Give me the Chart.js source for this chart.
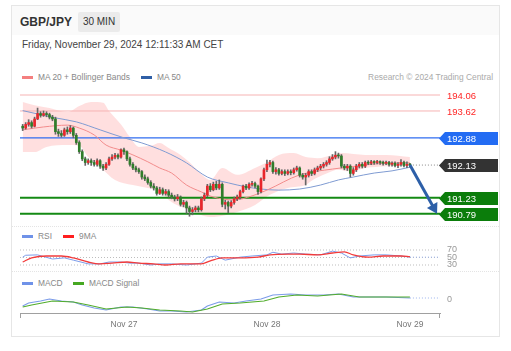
<!DOCTYPE html>
<html>
<head>
<meta charset="utf-8">
<script src="https://cdn.jsdelivr.net/npm/chart.js@4.4.1/dist/chart.umd.min.js"></script>
<style>
  body { margin:0; width:511px; height:351px; background:#fff; position:relative; overflow:hidden;
         font-family:"Liberation Sans", Arial, sans-serif; color:#333; }
  .abs { position:absolute; white-space:nowrap; }
  #card { left:11px; top:5px; width:489px; height:332px; border:1px solid #e6e6e6; box-sizing:border-box; }
  #head { left:12px; top:6px; width:487px; height:29px; background:#fafafa; }
  #pair { left:20px; top:15px; font-size:12px; font-weight:bold; color:#333; }
  #tf { left:78px; top:12px; width:42px; height:20px; background:#ebebeb; font-size:10px; line-height:20px; text-align:center; border-radius:2px; }
  #date { left:22px; top:39px; font-size:10px; color:#444; }
  .leg { font-size:8.4px; line-height:10px; color:#888; }
  .sw { height:3px; width:11px; }
  .sep { left:12px; width:487px; height:0; border-top:1px dotted #e4e4e4; }
  canvas { position:absolute; left:0; }
</style>
</head>
<body>
<div id="card" class="abs"></div>
<div id="head" class="abs"></div>
<div id="pair" class="abs">GBP/JPY</div>
<div id="tf" class="abs">30 MIN</div>
<div id="date" class="abs">Friday, November 29, 2024 12:11:33 AM CET</div>

<div class="abs sw" style="left:22px;top:76px;background:#f47f7f"></div>
<div class="abs leg" style="left:38px;top:72px">MA 20 + Bollinger Bands</div>
<div class="abs sw" style="left:141px;top:76px;background:#2f5fa6"></div>
<div class="abs leg" style="left:157px;top:72px">MA 50</div>
<div class="abs leg" style="right:18px;top:72px;color:#aaa">Research © 2024 Trading Central</div>

<div class="abs sep" style="top:226px"></div>
<div class="abs sw" style="left:22px;top:235px;background:#6f92e8"></div>
<div class="abs leg" style="left:38px;top:231px">RSI</div>
<div class="abs sw" style="left:63px;top:235px;background:#ff1f1f"></div>
<div class="abs leg" style="left:79px;top:231px">9MA</div>

<div class="abs sep" style="top:271px"></div>
<div class="abs sw" style="left:22px;top:282px;background:#6f92e8"></div>
<div class="abs leg" style="left:38px;top:278px">MACD</div>
<div class="abs sw" style="left:73px;top:282px;background:#46a822"></div>
<div class="abs leg" style="left:89px;top:278px">MACD Signal</div>

<canvas id="main" width="511" height="135" style="top:88px"></canvas>
<canvas id="rsi" width="511" height="26" style="top:244px"></canvas>
<canvas id="macd" width="511" height="50" style="top:289px"></canvas>

<script>
// 30 min candles, index 0 = Nov 26 07:00
const tickIdx = [34, 82, 130];
const tickLabels = ['Nov 27', 'Nov 28', 'Nov 29'];

const open = [
  193.20,193.15,193.25,193.30,193.20,193.40,193.55,193.50,193.55,193.52,
  193.45,193.40,193.05,193.00,192.95,193.10,193.05,193.15,192.95,192.75,
  192.50,192.30,192.20,192.25,192.20,192.15,192.25,192.10,192.05,192.15,
  192.30,192.35,192.40,192.35,192.55,192.50,192.30,192.15,192.05,192.00,
  191.95,191.80,191.75,191.65,191.55,191.50,191.35,191.45,191.35,191.40,
  191.30,191.25,191.20,191.25,191.05,191.10,190.95,190.85,190.90,190.95,
  190.90,191.20,191.30,191.55,191.45,191.60,191.50,191.60,191.05,191.10,
  191.00,191.10,191.20,191.25,191.40,191.55,191.50,191.60,191.62,191.55,
  191.40,191.75,192.00,192.15,192.20,191.95,192.00,191.90,191.95,191.90,
  191.95,191.92,192.00,192.05,191.85,191.80,191.85,191.95,191.90,192.00,
  192.05,192.10,192.15,192.20,192.30,192.35,192.40,192.38,192.10,192.05,
  192.10,191.90,192.00,192.10,192.15,192.10,192.20,192.18,192.22,192.20,
  192.22,192.20,192.18,192.20,192.15,192.18,192.12,192.15,192.20,192.12,
  192.15
];
const high = [
  193.25,193.30,193.38,193.35,193.45,193.70,193.60,193.62,193.60,193.56,
  193.50,193.45,193.12,193.08,193.15,193.18,193.22,193.18,193.00,192.80,
  192.55,192.35,192.30,192.30,192.26,192.30,192.28,192.15,192.20,192.35,
  192.42,192.45,192.44,192.58,192.60,192.52,192.35,192.20,192.10,192.05,
  191.98,191.86,191.80,191.70,191.62,191.54,191.52,191.50,191.46,191.45,
  191.36,191.30,191.32,191.28,191.16,191.14,191.00,190.96,191.00,191.00,
  191.25,191.36,191.60,191.62,191.66,191.68,191.72,191.64,191.16,191.14,
  191.15,191.25,191.30,191.44,191.58,191.60,191.64,191.68,191.66,191.58,
  191.78,192.05,192.27,192.26,192.24,192.06,192.04,192.00,192.00,192.00,
  192.00,192.05,192.10,192.08,191.90,191.90,192.00,192.00,192.05,192.10,
  192.15,192.20,192.25,192.36,192.42,192.50,192.46,192.42,192.15,192.15,
  192.14,192.06,192.15,192.20,192.20,192.24,192.25,192.26,192.25,192.26,
  192.25,192.24,192.24,192.23,192.22,192.22,192.20,192.28,192.24,192.22,
  192.18
];
const low = [
  193.08,193.12,193.20,193.15,193.18,193.38,193.45,193.47,193.46,193.40,
  193.35,192.98,192.92,192.90,192.92,192.98,193.00,192.88,192.70,192.45,
  192.25,192.12,192.15,192.12,192.10,192.10,192.04,191.98,192.00,192.12,
  192.26,192.30,192.30,192.32,192.42,192.25,192.10,192.00,191.94,191.90,
  191.74,191.70,191.60,191.50,191.44,191.30,191.32,191.30,191.30,191.25,
  191.20,191.14,191.15,191.00,190.98,190.80,190.72,190.76,190.84,190.84,
  190.86,191.15,191.26,191.40,191.42,191.45,191.46,190.98,190.92,190.82,
  190.95,191.05,191.15,191.20,191.36,191.45,191.46,191.55,191.50,191.32,
  191.36,191.70,191.95,192.08,191.90,191.88,191.85,191.86,191.84,191.86,
  191.86,191.88,191.96,191.80,191.74,191.58,191.80,191.84,191.86,191.95,
  192.00,192.05,192.10,192.15,192.26,192.30,192.32,192.05,192.00,191.98,
  191.80,191.85,191.95,192.05,192.05,192.06,192.14,192.14,192.15,192.16,
  192.15,192.13,192.14,192.10,192.10,192.08,192.06,192.10,192.08,192.06,
  192.08
];
const close = [
  193.15,193.25,193.30,193.20,193.40,193.55,193.50,193.55,193.52,193.45,
  193.40,193.05,193.00,192.95,193.10,193.05,193.15,192.95,192.75,192.50,
  192.30,192.20,192.25,192.20,192.15,192.25,192.10,192.05,192.15,192.30,
  192.35,192.40,192.35,192.55,192.50,192.30,192.15,192.05,192.00,191.95,
  191.80,191.75,191.65,191.55,191.50,191.35,191.45,191.35,191.40,191.30,
  191.25,191.20,191.25,191.05,191.10,190.95,190.85,190.90,190.95,190.90,
  191.20,191.30,191.55,191.45,191.60,191.50,191.60,191.05,191.10,191.00,
  191.10,191.20,191.25,191.40,191.55,191.50,191.60,191.62,191.55,191.40,
  191.75,192.00,192.15,192.20,191.95,192.00,191.90,191.95,191.90,191.95,
  191.92,192.00,192.05,191.85,191.80,191.85,191.95,191.90,192.00,192.05,
  192.10,192.15,192.20,192.30,192.35,192.40,192.38,192.10,192.05,192.10,
  191.90,192.00,192.10,192.15,192.10,192.20,192.18,192.22,192.20,192.22,
  192.20,192.18,192.20,192.15,192.18,192.12,192.15,192.20,192.12,192.15,
  192.13
];

// indicators: [candle index, value]
const ma20 = [[0,193.10],[7,193.18],[15,193.23],[19,193.15],[24,192.96],[28,192.68],[33,192.54],[37,192.41],
  [42,192.22],[46,192.05],[50,191.91],[55,191.58],[60,191.39],[64,191.25],[71,191.17],[77,191.28],[82,191.44],
  [93,191.86],[104,192.02],[110,192.08],[118,192.16],[126,192.19],[130,192.19]];
const ma50 = [[0,193.63],[11,193.43],[18,193.32],[26,193.10],[34,192.88],[40,192.74],[48,192.49],[55,192.19],
  [62,191.80],[69,191.64],[75,191.53],[80,191.47],[86,191.44],[93,191.47],[100,191.58],[106,191.72],[111,191.80],
  [118,191.91],[124,191.97],[130,192.07]];
const bbUpper = [[0,193.87],[4,193.78],[9,193.70],[15,193.59],[19,193.76],[23,193.87],[27,193.85],[29,193.62],
  [33,193.25],[36,192.90],[39,192.63],[43,192.66],[46,192.74],[49,192.60],[53,192.41],[56,192.21],[60,191.88],
  [63,191.72],[67,192.05],[72,191.86],[78,192.05],[82,192.21],[86,192.41],[91,192.46],[95,192.35],[99,192.32],
  [104,192.41],[107,192.46],[115,192.41],[122,192.41],[130,192.35]];
const bbLower = [[0,192.49],[4,192.49],[8,192.63],[15,192.68],[19,192.66],[22,192.35],[26,192.08],[31,191.72],
  [37,191.58],[42,191.50],[46,191.42],[49,191.17],[56,190.89],[63,190.70],[68,190.75],[72,190.84],[78,191.03],
  [83,191.31],[89,191.50],[95,191.58],[97,191.70],[102,191.90],[106,192.00],[110,191.95],[115,192.05],
  [122,192.10],[130,192.12]];

const levels = [194.06, 193.62, 192.88, 191.23, 190.79];
const lastPrice = 192.13;
const arrowFrom = [130, 192.13];
const arrowTo = [139.1, 190.79];

const rsi = [[0,51],[1,56],[5,57],[10,46],[14,49],[17,43],[22,33],[26,33],[29,38],[33,38],[36,35],[39,35],
  [43,30],[46,33],[50,33],[55,30],[60,35],[62,51],[65,54],[68,43],[73,51],[77,54],[82,57],[84,64],[87,59],
  [91,62],[95,59],[100,57],[104,67],[107,62],[110,49],[113,54],[118,57],[122,57],[127,54],[130,51]];
const rsiMa = [[0,38],[3,49],[8,54],[13,54],[17,49],[22,38],[26,33],[30,35],[35,38],[39,35],[44,33],[48,30],
  [53,33],[57,33],[60,33],[63,41],[67,49],[73,49],[79,51],[83,57],[89,59],[93,59],[99,57],[104,62],[108,65],
  [111,57],[116,51],[121,54],[127,54],[130,52]];
const rsiLevels = [70, 50, 30];

const macd = [[0,-0.065],[2,-0.035],[6,-0.015],[9,0.005],[13,-0.015],[17,-0.025],[20,-0.055],[24,-0.085],
  [28,-0.105],[33,-0.075],[37,-0.075],[42,-0.095],[46,-0.115],[50,-0.115],[55,-0.125],[60,-0.105],[62,-0.065],
  [66,-0.025],[71,-0.035],[75,-0.015],[80,0.005],[84,0.045],[90,0.055],[95,0.045],[101,0.045],[106,0.055],
  [111,0.025],[117,0.025],[122,0.025],[130,0.015]];
const macdSignal = [[0,-0.075],[3,-0.055],[10,-0.015],[17,-0.025],[22,-0.055],[28,-0.095],[35,-0.075],
  [40,-0.085],[46,-0.105],[53,-0.115],[57,-0.125],[62,-0.095],[67,-0.045],[73,-0.035],[81,-0.015],[86,0.025],
  [92,0.045],[99,0.035],[107,0.055],[113,0.025],[121,0.025],[130,0.025]];

// ---------- shared settings ----------
const X_MIN = -0.9, X_MAX = 140.1;
const PAD = {left: 20, right: 71, top: 0, bottom: 0};
const UP = '#e8262b', DOWN = '#2f7d2a';
const FONT = '"Liberation Sans", Arial, sans-serif';

const pts = arr => arr.map(p => ({x: p[0], y: p[1]}));
const hline = v => [{x: X_MIN, y: v}, {x: X_MAX, y: v}];
const last = arr => arr[arr.length - 1];
const ext = arr => [{x: last(arr)[0], y: last(arr)[1]}, {x: X_MAX, y: last(arr)[1]}];

const baseOpts = (yMin, yMax, showX) => ({
  responsive: false,
  animation: false,
  devicePixelRatio: 1,
  layout: {padding: PAD},
  plugins: {legend: {display: false}, tooltip: {enabled: false}},
  elements: {point: {radius: 0}},
  scales: {
    x: {type: 'linear', min: X_MIN, max: X_MAX, offset: false, display: showX},
    y: {min: yMin, max: yMax, display: false}
  }
});

function rightText(ctx, txt, x, y, color, size) {
  ctx.fillStyle = color;
  ctx.font = size + 'px ' + FONT;
  ctx.textAlign = 'left';
  ctx.textBaseline = 'middle';
  ctx.fillText(txt, x, y);
}

// ---------- main price chart ----------
const levelColors = ['#f6b3b3', '#f6b3b3', '#2f6cf0', '#148a14', '#148a14'];
const levelWidths = [1, 1, 1.3, 2, 2];
const tagFill = [null, null, '#236cf3', '#0b7d0b', '#0b7d0b'];

const wicks = close.map((c, i) => ({x: i, y: [low[i], high[i]]}));
const bodies = close.map((c, i) => ({x: i, y: [open[i], c]}));
const bodyColors = close.map((c, i) => c >= open[i] ? UP : DOWN);

const mainDs = [
  {type: 'bar', data: wicks, backgroundColor: '#666', barThickness: 1, grouped: false, minBarLength: 1, order: 1},
  {type: 'bar', data: bodies, backgroundColor: bodyColors, barThickness: 2, grouped: false, minBarLength: 1, order: 0},
  {type: 'line', data: pts(ma20), borderColor: '#f28c8c', borderWidth: 1, cubicInterpolationMode: 'monotone', order: 2},
  {type: 'line', data: pts(ma50), borderColor: '#7f9bd2', borderWidth: 1, cubicInterpolationMode: 'monotone', order: 2},
  {type: 'line', data: pts(bbUpper), borderWidth: 0, borderColor: 'rgba(0,0,0,0)', fill: '+1',
   backgroundColor: 'rgba(255,192,192,0.5)', cubicInterpolationMode: 'monotone', order: 5},
  {type: 'line', data: pts(bbLower), borderWidth: 0, borderColor: 'rgba(0,0,0,0)', fill: false,
   cubicInterpolationMode: 'monotone', order: 5},
  {type: 'line', data: [{x: 130, y: lastPrice}, {x: X_MAX, y: lastPrice}], borderColor: '#8a8a8a',
   borderWidth: 1, borderDash: [1, 2], order: 3}
];
levels.forEach((v, i) => mainDs.push({
  type: 'line', data: hline(v), borderColor: levelColors[i], borderWidth: levelWidths[i], order: 4
}));

const mainPlugin = {
  id: 'mainTags',
  afterDatasetsDraw(chart) {
    const {ctx, chartArea: a, scales: {x, y}} = chart;
    ctx.save();
    // arrow
    const x0 = x.getPixelForValue(arrowFrom[0]), y0 = y.getPixelForValue(arrowFrom[1]);
    const x1 = x.getPixelForValue(arrowTo[0]), y1 = y.getPixelForValue(arrowTo[1]);
    const len = Math.hypot(x1 - x0, y1 - y0), ux = (x1 - x0) / len, uy = (y1 - y0) / len;
    const hl = 10, hw = 6;
    const bx = x1 - ux * hl, by = y1 - uy * hl;
    ctx.strokeStyle = '#2d5fa8'; ctx.fillStyle = '#2d5fa8'; ctx.lineWidth = 3;
    ctx.beginPath(); ctx.moveTo(x0, y0); ctx.lineTo(bx + ux, by + uy); ctx.stroke();
    ctx.beginPath();
    ctx.moveTo(x1, y1);
    ctx.lineTo(bx - uy * hw, by + ux * hw);
    ctx.lineTo(bx + uy * hw, by - ux * hw);
    ctx.closePath(); ctx.fill();

    // tags
    const drawTag = (v, fill, color) => {
      const ty = Math.round(y.getPixelForValue(v)) + 0.5;
      const tx = a.right - 1, w = 59, h = 13;
      if (fill) {
        ctx.fillStyle = fill;
        ctx.beginPath();
        ctx.moveTo(tx, ty);
        ctx.lineTo(tx + 6, ty - h / 2); ctx.lineTo(tx + w, ty - h / 2);
        ctx.lineTo(tx + w, ty + h / 2); ctx.lineTo(tx + 6, ty + h / 2);
        ctx.closePath(); ctx.fill();
      }
      rightText(ctx, v.toFixed(2), a.right + 7, ty + 0.5, color, 9.5);
    };
    levels.forEach((v, i) => drawTag(v, tagFill[i], tagFill[i] ? '#fff' : '#ff2525'));
    drawTag(lastPrice, '#333333', '#fff');
    ctx.restore();
  }
};

new Chart(document.getElementById('main'), {
  type: 'bar',
  data: {datasets: mainDs},
  options: baseOpts(190.534, 194.253, false),
  plugins: [mainPlugin]
});

// ---------- RSI ----------
const rsiDs = [
  {data: pts(rsi), borderColor: '#7c9ce9', borderWidth: 1, order: 1},
  {data: pts(rsiMa), borderColor: '#f23b3b', borderWidth: 1.3, cubicInterpolationMode: 'monotone', order: 0},
  {data: ext(rsi), borderColor: '#9db4ee', borderWidth: 1, borderDash: [1, 2], order: 2}
];
rsiLevels.forEach(v => rsiDs.push({data: hline(v), borderColor: '#bdbdbd', borderWidth: 1, borderDash: [1, 2], order: 3}));

new Chart(document.getElementById('rsi'), {
  type: 'line',
  data: {datasets: rsiDs},
  options: baseOpts(16.7, 86, false),
  plugins: [{
    id: 'rsiLabels',
    afterDraw(chart) {
      const {ctx, chartArea: a, scales: {y}} = chart;
      rsiLevels.forEach(v => rightText(ctx, String(v), a.right + 7, y.getPixelForValue(v), '#999', 9));
    }
  }]
});

// ---------- MACD ----------
const macdOpts = baseOpts(-0.135, 0.105, true);
macdOpts.scales.x.grid = {display: false, drawTicks: false};
macdOpts.scales.x.border = {display: true, color: '#a0a0a0', width: 1};
macdOpts.scales.x.afterFit = s => { s.height = 26; };
macdOpts.scales.x.afterBuildTicks = s => { s.ticks = tickIdx.map(v => ({value: v})); };
macdOpts.scales.x.ticks = {
  padding: 7, color: '#777', maxRotation: 0, autoSkip: false,
  font: {size: 8.5, family: FONT},
  callback: v => tickLabels[tickIdx.indexOf(v)]
};

new Chart(document.getElementById('macd'), {
  type: 'line',
  data: {datasets: [
    {data: pts(macd), borderColor: '#7c9ce9', borderWidth: 1.2, order: 1},
    {data: pts(macdSignal), borderColor: '#52ad2c', borderWidth: 1.2, order: 0},
    {data: ext(macd), borderColor: '#9db4ee', borderWidth: 1, borderDash: [1, 2], order: 2}
  ]},
  options: macdOpts,
  plugins: [{
    id: 'macdExtras',
    afterDraw(chart) {
      const {ctx, chartArea: a, scales: {y}} = chart;
      rightText(ctx, '0', a.right + 7, y.getPixelForValue(0), '#999', 9);
      ctx.save();
      ctx.strokeStyle = '#a0a0a0'; ctx.lineWidth = 1;
      ctx.beginPath();
      ctx.moveTo(a.left + 0.5, a.bottom); ctx.lineTo(a.left + 0.5, a.bottom + 5);
      ctx.moveTo(a.right - 0.5, a.bottom); ctx.lineTo(a.right - 0.5, a.bottom + 5);
      ctx.stroke();
      ctx.restore();
    }
  }]
});
</script>
</body>
</html>
